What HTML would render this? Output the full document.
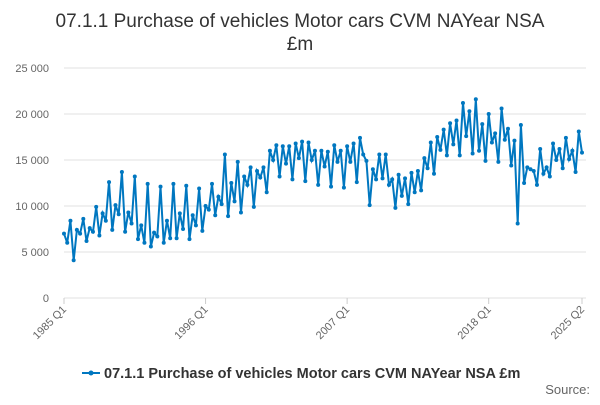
<!DOCTYPE html>
<html><head><meta charset="utf-8"><style>
body{margin:0;background:#fff;font-family:"Liberation Sans",sans-serif}
</style></head><body>
<svg width="600" height="400" xmlns="http://www.w3.org/2000/svg" font-family="Liberation Sans, sans-serif">
<rect width="600" height="400" fill="#fff"/>
<text x="300" y="27" text-anchor="middle" font-size="19" fill="#333">07.1.1 Purchase of vehicles Motor cars CVM NAYear NSA</text>
<text x="300" y="50" text-anchor="middle" font-size="19" fill="#333">£m</text>
<g id="grid"></g><g id="yl"></g><g id="xl"></g>
<path id="line" fill="none" stroke="#0077c0" stroke-width="2"/>
<g id="pts"></g>
<g>
<line x1="82" y1="373" x2="100" y2="373" stroke="#0077c0" stroke-width="2"/>
<circle cx="91" cy="373" r="2.5" fill="#0077c0"/>
<text x="104" y="378" font-size="14.5" font-weight="bold" fill="#333">07.1.1 Purchase of vehicles Motor cars CVM NAYear NSA £m</text>
</g>
<text x="590" y="394" text-anchor="end" font-size="13" fill="#666">Source:</text>
</svg>
<script>
const yTicks=[0,5000,10000,15000,20000,25000];
const yTickLabels=["0","5 000","10 000","15 000","20 000","25 000"];
const xTickIdx=[0,44,88,132,161];
const xTickLabels=["1985 Q1","1996 Q1","2007 Q1","2018 Q1","2025 Q2"];
const values=[7.0,6.0,8.4,4.1,7.4,7.0,8.6,6.2,7.6,7.2,9.9,6.8,9.2,8.4,12.6,7.4,10.1,9.1,13.7,7.2,9.3,8.1,13.2,6.4,7.9,6.0,12.4,5.6,7.1,6.7,12.1,6.0,8.4,6.5,12.4,6.5,9.2,7.5,12.2,6.4,9.0,7.9,11.9,7.3,10.0,9.6,12.4,9.0,11.0,10.2,15.6,8.9,12.5,10.5,14.8,9.3,13.2,12.3,14.2,9.9,13.8,13.1,14.2,11.5,16.0,15.0,16.6,13.2,16.5,14.6,16.5,12.9,16.8,15.2,17.0,12.7,16.9,15.0,16.0,12.3,16.0,14.3,15.9,12.1,16.6,14.8,16.0,12.0,16.5,14.8,16.8,12.6,17.4,15.6,14.9,10.1,14.0,12.9,15.6,13.0,15.6,12.3,12.9,9.8,13.4,11.1,13.0,10.2,13.6,11.5,13.8,11.7,15.2,14.1,16.9,13.5,17.5,16.1,18.3,15.5,19.0,16.7,19.3,15.5,21.2,17.6,20.3,15.7,21.6,16.0,18.9,14.9,20.0,16.9,17.9,14.8,20.6,17.2,18.4,14.4,17.1,8.1,18.8,12.5,14.2,14.0,13.8,12.3,16.2,13.5,14.2,13.2,16.8,15.0,16.2,14.1,17.4,15.1,16.0,13.7,18.1,15.8].map(v=>v*1000);
const NS="http://www.w3.org/2000/svg";
const x0=64,x1=582,y0=298,y1=68;
const X=i=>x0+(x1-x0)*i/(values.length-1);
const Y=v=>y0-(y0-y1)*v/25000;
function mk(t,a,p){const e=document.createElementNS(NS,t);for(const k in a)e.setAttribute(k,a[k]);p.appendChild(e);return e;}
const g=document.getElementById('grid'),yl=document.getElementById('yl'),xl=document.getElementById('xl'),pts=document.getElementById('pts');
yTicks.forEach((t,i)=>{
 const l=mk('line',{x1:x0,x2:586,y1:Y(t),y2:Y(t),stroke:'#e0e0e0','stroke-width':1},g);
 
 
 const tx=mk('text',{x:49,y:Y(t)+4,'text-anchor':'end','font-size':11,fill:'#666'},yl);tx.textContent=yTickLabels[i];
 
 
});
xTickIdx.forEach((idx,i)=>{
 const x=X(idx);
 const tk=mk('line',{x1:x,x2:x,y1:y0,y2:y0+6,stroke:'#ccc'},xl);
 
 
 const tx=mk('text',{x:x+3,y:y0+12,'text-anchor':'end','font-size':11,fill:'#666',transform:`rotate(-45 ${x+3} ${y0+12})`},xl);tx.textContent=xTickLabels[i];
 
 
});
document.getElementById('line').setAttribute('d',values.map((v,i)=>(i?'L':'M')+X(i).toFixed(1)+','+Y(v).toFixed(1)).join(''));
values.forEach((v,i)=>{
 const c=mk('circle',{cx:X(i),cy:Y(v),r:2,fill:'#0077c0'},pts);
 
 
});
</script>
</body></html>
